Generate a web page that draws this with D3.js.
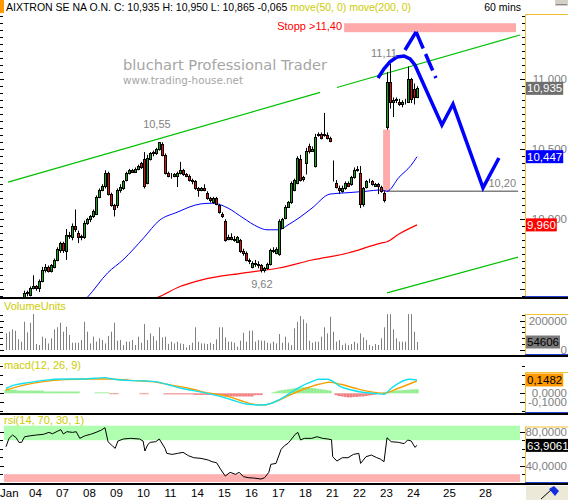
<!DOCTYPE html>
<meta charset="utf-8" />
<script src="https://d3js.org/d3.v7.min.js"></script>
<style>
  body { margin: 0; background: #fff; }
  svg { display: block; font-family: "Liberation Sans", Arial, sans-serif; }
</style>
<div id="chart"></div>
<script>
  // ---- data ----
  const title = "AIXTRON SE NA O.N.";
  const prevClose = 11.0;
  const dayLabels = ["Jan","04","07","08","09","10","11","14","15","16","17","18","21","22","23","24","25","28"];
  const dayBars = [0,9,18,27,36,45,54,63,72,81,90,99,108,117,126,135,147,159];

  // hourly candles [open, high, low, close]
  const ohlc = [
    [9.28,9.31,9.26,9.30],[9.30,9.34,9.29,9.33],[9.33,9.37,9.32,9.36],[9.36,9.39,9.34,9.38],[9.38,9.41,9.36,9.40],
    [9.40,9.43,9.38,9.42],[9.43,9.49,9.42,9.47],[9.47,9.49,9.45,9.48],[9.46,9.52,9.45,9.51],[9.51,9.60,9.50,9.52],
    [9.52,9.53,9.49,9.51],[9.51,9.57,9.48,9.56],[9.56,9.66,9.55,9.64],[9.64,9.68,9.62,9.66],[9.66,9.67,9.62,9.63],
    [9.63,9.68,9.62,9.67],[9.66,9.72,9.65,9.71],[9.71,9.80,9.70,9.79],[9.78,9.84,9.76,9.83],[9.83,9.84,9.76,9.78],
    [9.77,9.93,9.71,9.89],[9.89,9.91,9.86,9.88],[9.87,9.97,9.85,9.95],[9.95,10.07,9.91,9.93],[9.90,9.92,9.83,9.87],
    [9.87,9.89,9.85,9.88],[9.87,9.99,9.86,9.97],[9.97,10.01,9.96,10.00],[10.00,10.03,9.98,10.02],[10.02,10.07,10.01,10.06],
    [10.04,10.17,10.03,10.16],[10.16,10.22,10.15,10.21],[10.21,10.25,10.20,10.24],[10.24,10.35,10.22,10.33],[10.33,10.34,10.17,10.18],
    [10.18,10.19,10.09,10.10],[10.10,10.11,10.02,10.07],[10.10,10.22,10.08,10.21],[10.21,10.25,10.19,10.23],[10.22,10.28,10.21,10.27],
    [10.28,10.34,10.27,10.33],[10.33,10.36,10.32,10.35],[10.35,10.36,10.33,10.34],[10.34,10.37,10.33,10.36],[10.36,10.39,10.35,10.38],
    [10.40,10.41,10.36,10.37],[10.43,10.48,10.22,10.24],[10.26,10.46,10.25,10.44],[10.43,10.48,10.42,10.47],[10.47,10.49,10.45,10.48],
    [10.47,10.51,10.46,10.50],[10.50,10.55,10.49,10.55],[10.54,10.55,10.45,10.46],[10.46,10.47,10.32,10.33],[10.33,10.34,10.30,10.31],
    [10.31,10.33,10.29,10.31],[10.31,10.33,10.30,10.32],[10.31,10.34,10.23,10.33],[10.33,10.41,10.32,10.35],[10.35,10.36,10.31,10.32],
    [10.32,10.33,10.30,10.31],[10.31,10.32,10.27,10.28],[10.28,10.29,10.25,10.27],[10.27,10.28,10.21,10.22],[10.22,10.23,10.16,10.21],
    [10.21,10.23,10.20,10.22],[10.22,10.25,10.20,10.21],[10.19,10.20,10.14,10.15],[10.15,10.16,10.12,10.14],[10.12,10.16,10.11,10.15],
    [10.15,10.16,10.10,10.11],[10.10,10.11,10.04,10.05],[10.04,10.05,10.01,10.02],[9.99,10.00,9.84,9.85],[9.86,9.89,9.85,9.87],
    [9.87,9.90,9.85,9.86],[9.86,9.88,9.84,9.85],[9.84,9.88,9.83,9.87],[9.85,9.86,9.76,9.77],[9.77,9.79,9.74,9.76],
    [9.76,9.77,9.70,9.71],[9.71,9.72,9.68,9.70],[9.66,9.70,9.65,9.69],[9.69,9.71,9.66,9.68],[9.68,9.70,9.65,9.67],
    [9.67,9.68,9.62,9.64],[9.64,9.66,9.62,9.65],[9.65,9.69,9.64,9.68],[9.68,9.79,9.67,9.78],[9.78,9.80,9.76,9.77],
    [9.76,9.80,9.75,9.79],[9.75,10.00,9.74,9.99],[9.94,10.01,9.93,10.00],[10.01,10.10,10.00,10.09],[10.09,10.13,10.08,10.12],
    [10.12,10.27,10.11,10.26],[10.21,10.29,10.20,10.28],[10.26,10.45,10.25,10.44],[10.43,10.46,10.27,10.28],[10.29,10.31,10.27,10.30],
    [10.40,10.51,10.32,10.49],[10.52,10.54,10.47,10.49],[10.49,10.52,10.48,10.50],[10.38,10.61,10.37,10.59],[10.61,10.62,10.59,10.60],
    [10.61,10.62,10.57,10.58],[10.60,10.76,10.59,10.61],[10.60,10.62,10.57,10.58],[10.58,10.59,10.55,10.56],[10.29,10.42,10.27,10.29],
    [10.26,10.28,10.22,10.23],[10.22,10.24,10.18,10.21],[10.20,10.24,10.19,10.22],[10.22,10.27,10.21,10.26],[10.26,10.27,10.23,10.24],
    [10.25,10.31,10.24,10.30],[10.30,10.37,10.29,10.35],[10.35,10.38,10.34,10.36],[10.33,10.38,10.08,10.11],[10.11,10.23,10.09,10.22],
    [10.23,10.28,10.22,10.27],[10.27,10.29,10.26,10.27],[10.27,10.28,10.24,10.25],[10.24,10.26,10.23,10.25],[10.25,10.26,10.18,10.24],
    [10.23,10.24,10.19,10.20],[10.19,10.20,10.12,10.14],[10.66,11.05,10.64,10.98],[10.98,11.11,10.79,10.84],[10.84,10.87,10.73,10.85],
    [10.85,10.87,10.83,10.86],[10.84,10.86,10.81,10.82],[10.82,10.85,10.80,10.84],[10.84,10.86,10.82,10.84],[10.84,11.09,10.83,11.00],
    [11.00,11.01,10.83,10.86],[10.93,10.97,10.82,10.87],[10.87,10.95,10.865,10.935]
  ];

  // volume in thousands of units
  const volume = [
    114,125,141,132,73,57,193,120,186,245, 41,34,91,80,45,80,141,155,186,125,
    159,102,50,50,50,68,193,125,45,91, 57,80,68,45,95,125,186,64,68,34,
    57,57,68,34,91,50,177,68,114,95, 64,155,86,91,41,57,45,57,45,41,
    18,34,50,155,57,45,45,41,50,41, 73,155,155,86,57,57,50,23,64,118,
    57,132,132,57,68,64,64,50,45,57, 45,109,50,91,50,34,148,193,232,209,
    182,64,50,57,57,91,155,114,227,125, 57,68,34,45,34,41,57,45,114,86,
    68,34,27,41,34,80,155,245,245,141, 80,57,57,57,245,245,125,54.606
  ];

  // moving averages [bar, price]
  const ma50 = [[24,9.38],[27,9.44],[34,9.62],[39,9.71],[46,9.87],[51,9.99],[57,10.05],[65,10.11],[69,10.115],
    [74,10.08],[79,10.01],[84,9.945],[87,9.925],[91,9.925],[94,9.96],[98,10.015],[102,10.08],[108,10.18],
    [114,10.19],[120,10.20],[125,10.21],[127,10.20],[131,10.30],[135,10.385],[137,10.447]];
  const ma200 = [[48,9.42],[51,9.446],[58,9.52],[65,9.566],[79,9.616],[91,9.652],[102,9.709],[114,9.759],
    [125,9.83],[127,9.84],[131,9.895],[137,9.96]];

  // drawn objects [bar, price]
  const channelUpper = [[[0.7,10.265],[104.7,10.906]], [[110.3,10.941],[171.3,11.316]]];
  const channelLower = [[127,9.474],[170.7,9.73]];
  const supportLine = [[127,10.20],[170.7,10.20]];
  const forecast = [[124,11.009],[126,11.074],[128,11.124],[130.3,11.159],[132.7,11.166],[134.7,11.145],
    [136.3,11.102],[145.3,10.673],[149,10.823],[159,10.224],[164.3,10.438]];
  const peakUp = [[133,11.209],[136.7,11.338]];
  const peakDown = [[136.7,11.338],[143.3,11.009]];
  const gapZone = [125.7, 128, 10.195, 10.64];
  const stopZone = [112.7, 170, 11.336, 11.40];
  const notes = [
    { text: "10,55", bar: 50.3, price: 10.652, anchor: "middle" },
    { text: "9,62", bar: 85.3, price: 9.509, anchor: "middle" },
    { text: "11,11", bar: 126, price: 11.16, anchor: "middle" },
    { text: "10,20", bar: 170, price: 10.231, anchor: "end" }
  ];

  // indicators
  const macdLine = [[0,0.056],[3,0.093],[8,0.122],[12.5,0.144],[19.7,0.159],[25.8,0.159],[33,0.174],[35.4,0.159],
    [40.3,0.144],[46.3,0.137],[51.1,0.122],[53.6,0.1],[58.4,0.056],[65.6,0.011],[70.5,-0.026],[75.3,-0.074],
    [80.1,-0.119],[85,-0.13],[87.4,-0.122],[91,-0.074],[94.6,0],[98.2,0.074],[101.9,0.13],[104.3,0.156],
    [107.3,0.156],[109.1,0.13],[111.5,0.074],[115.2,0.037],[118.8,0.011],[123.6,-0.004],[126,-0.011],
    [128.4,0.056],[130.8,0.111],[134.5,0.156],[137,0.1482]];
  const signalLine = [[0,0.037],[5.2,0.085],[12.5,0.13],[19.7,0.152],[28.2,0.159],[34.2,0.159],[41.5,0.144],
    [48.7,0.13],[54.8,0.093],[60.8,0.056],[68,0],[72.9,-0.026],[77.7,-0.074],[82.5,-0.122],[86.2,-0.13],
    [89.8,-0.093],[94.6,-0.019],[99.4,0.048],[104.3,0.1],[107.9,0.122],[111.5,0.1],[116.4,0.056],
    [121.2,0.019],[126,0],[130.8,0.056],[137,0.137]];
  const macdHist = [
    0.04,0.04,0.04,0.04,0.03,0.03,0.03,0.03,0.03,0.03, 0.03,0.03,0.03,0.02,0.02,0.02,0.02,0.02,0.02,0.02,
    0.02,0.02,0.02,0.02,0.02,0,0,0,0,0, 0.01,0.01,0.01,0.01,0.01,-0.01,-0.01,-0.01,0,0,
    0,0,0,0,0,-0.01,-0.01,-0.01,0,0, 0,0,0,-0.012,-0.012,-0.012,-0.012,-0.012,-0.012,-0.012,
    -0.012,-0.012,-0.012,-0.018,-0.018,-0.018,-0.018,-0.018,-0.018,-0.018, -0.018,-0.018,-0.018,-0.035,-0.035,-0.035,-0.035,-0.035,-0.035,-0.035,
    -0.035,-0.035,-0.035,-0.02,-0.02,-0.02,0,0,0,0.01, 0.02,0.03,0.035,0.04,0.045,0.05,0.055,0.06,0.065,0.067,
    0.067,0.065,0.06,0.055,0.05,0.045,0.04,0.035,0.03,0, -0.02,-0.03,-0.035,-0.04,-0.045,-0.045,-0.04,-0.04,-0.035,-0.035,
    -0.03,-0.025,-0.02,-0.015,0,0,0.01,0.015,0.02,0.025, 0.03,0.033,0.035,0.037,0.04,0.042,0.044,0.045
  ];
  const rsi = [[0,62.4],[1,72.2],[2.2,76.1],[3.4,72.9],[4.3,67.5],[5.2,67.5],[6.2,74.1],[8.3,75.3],[10.1,76.1],
    [12.5,76.9],[14.3,79.2],[15.5,77.6],[17.3,80.8],[18.3,82.4],[19.1,77.3],[20.3,80],[22.2,79.2],[23.4,80],
    [24.6,72.2],[26.4,75.3],[28.2,76.9],[30,79.2],[31.8,82],[33,84.7],[34,68.2],[35.4,63.5],[36.4,60.4],
    [37.3,69],[39.1,71.4],[41.5,72.2],[44.5,71.4],[45.7,69],[46.3,57.3],[47.3,65.1],[48.1,67.5],[49.9,68.2],
    [51.1,71.4],[53,60.4],[53.6,54.5],[55.4,53.3],[57.2,54.5],[59,55.7],[60.8,51.8],[62.6,49.4],[65,48.6],
    [67.4,46.7],[68.7,44.7],[70.2,43.5],[71.7,34.9],[73.1,27.8],[74.7,32.2],[76.5,29.8],[77.7,32.2],[79.2,27.1],
    [80.7,25.9],[82.5,25.5],[85,24.3],[86.2,25.9],[87.6,32.2],[88.3,41.6],[90,42.7],[91.7,59.2],[92.8,63.5],
    [94,66.3],[95.2,71.4],[96.4,76.9],[97.3,79.2],[98.2,70.2],[99.4,72.2],[101.9,72.2],[103.7,74.1],[105.5,72.2],
    [107.3,71.4],[108.5,70.6],[108.9,50.6],[110.3,45.5],[112.1,49.4],[114,49.4],[115.8,53.3],[117.6,54.5],
    [118.2,42.7],[120,50.6],[121.8,52.5],[123.6,49.4],[124.8,47.8],[126,44.7],[127,72.9],[128.4,68.2],
    [130.8,67.5],[132.7,65.9],[133.9,70.2],[135.1,69],[136.3,61.6],[137,63.9061]];

  // ---- layout ----
  const width = 568, height = 500;
  const plotL = 4, plotR = 521, boxL = 525;
  const yellow = "#cccc00", gray = "#808080";
  const fmtC = (v, d) => v.toFixed(d).replace(".", ",");

  const svg = d3.select("#chart").append("svg").attr("width", width).attr("height", height);
  svg.append("rect").attr("width", width).attr("height", height).attr("fill", "#fff");

  const x = d3.scaleLinear().domain([0, 137]).range([6, 417]);
  const yP = d3.scaleLinear().domain([9.445, 11.466]).range([297, 14]);
  const yV = d3.scaleLinear().domain([0, 200]).range([350, 320.7]);
  const yM = d3.scaleLinear().domain([0, 0.1]).range([393.3, 384.3]);
  const yR = d3.scaleLinear().domain([40, 80]).range([465.7, 431.7]);

  svg.append("clipPath").attr("id", "mainclip").append("rect")
    .attr("x", plotL).attr("y", 14).attr("width", plotR - plotL).attr("height", 283);

  // ---- header ----
  svg.append("rect").attr("x", 0).attr("y", 0).attr("width", 4).attr("height", 13).attr("fill", "#ff9900");
  const last = ohlc[ohlc.length - 1];
  const head = svg.append("text").attr("x", 6).attr("y", 11).style("font-size", "10.5px");
  head.append("tspan").attr("fill", "#000")
    .text(title + " C: " + fmtC(last[3], 3) + " H: " + fmtC(last[1], 3) + " L: " + fmtC(last[2], 3) + " " + fmtC(last[3] - prevClose, 3));
  head.append("tspan").attr("fill", yellow).text(" move(50, 0) move(200, 0)");
  svg.append("text").attr("x", 521).attr("y", 11).attr("text-anchor", "end")
    .style("font-size", "10.5px").text("60 mins");
  svg.append("rect").attr("x", 555).attr("y", 0).attr("width", 13).attr("height", 6).attr("fill", "#d4d0c8");
  svg.append("line").attr("x1", 556).attr("x2", 567).attr("y1", 4.5).attr("y2", 4.5).attr("stroke", "#888");

  // ---- main panel ----
  const main = svg.append("g").attr("clip-path", "url(#mainclip)");

  main.append("text").attr("x", 123).attr("y", 70).attr("fill", "#a6a6a6")
    .attr("textLength", 204).attr("lengthAdjust", "spacingAndGlyphs")
    .style("font-family", "DejaVu Sans").style("font-size", "14px").text("bluchart Professional Trader");
  main.append("text").attr("x", 123).attr("y", 84).attr("fill", "#a6a6a6")
    .attr("textLength", 120).attr("lengthAdjust", "spacingAndGlyphs")
    .style("font-family", "DejaVu Sans").style("font-size", "10px").text("www.trading-house.net");

  const lineP = d3.line().x((d) => x(d[0])).y((d) => yP(d[1]));
  const curveP = d3.line().x((d) => x(d[0])).y((d) => yP(d[1])).curve(d3.curveMonotoneX);

  main.append("rect").attr("x", x(stopZone[0])).attr("y", yP(stopZone[3]))
    .attr("width", x(stopZone[1]) - x(stopZone[0])).attr("height", yP(stopZone[2]) - yP(stopZone[3]))
    .attr("fill", "#ffaaaa");
  main.append("rect").attr("x", x(gapZone[0])).attr("y", yP(gapZone[3]))
    .attr("width", x(gapZone[1]) - x(gapZone[0])).attr("height", yP(gapZone[2]) - yP(gapZone[3]))
    .attr("fill", "#ffaaaa");

  channelUpper.concat([channelLower]).forEach((seg) => {
    main.append("path").attr("d", lineP(seg)).attr("fill", "none").attr("stroke", "#00c000").attr("stroke-width", 1.2);
  });
  main.append("path").attr("d", lineP(supportLine)).attr("fill", "none").attr("stroke", gray).attr("stroke-width", 1.5);

  main.append("path").attr("d", curveP(ma200)).attr("fill", "none").attr("stroke", "#ff0000").attr("stroke-width", 1.2);
  main.append("path").attr("d", curveP(ma50)).attr("fill", "none").attr("stroke", "#0000ff").attr("stroke-width", 1);

  // candles
  const candle = main.append("g").selectAll("g").data(ohlc).join("g");
  candle.append("line")
    .attr("x1", (d, i) => Math.round(x(i)) + 0.5).attr("x2", (d, i) => Math.round(x(i)) + 0.5)
    .attr("y1", (d) => yP(d[1])).attr("y2", (d) => yP(d[2])).attr("stroke", "#000");
  candle.append("rect")
    .attr("x", (d, i) => Math.round(x(i)) - 0.5)
    .attr("y", (d) => Math.round(yP(Math.max(d[0], d[3]))) + 0.5)
    .attr("width", 2)
    .attr("height", (d) => Math.max(0, Math.round(yP(Math.min(d[0], d[3]))) - Math.round(yP(Math.max(d[0], d[3])))))
    .attr("fill", (d) => (d[3] >= d[0] ? "#10a810" : "#e01010"))
    .attr("stroke", "#000");

  // forecast drawing
  main.append("path").attr("d", lineP(forecast)).attr("fill", "none").attr("stroke", "#0000ff").attr("stroke-width", 3.5);
  main.append("path").attr("d", lineP(peakUp)).attr("fill", "none").attr("stroke", "#0000ff").attr("stroke-width", 3.5);
  main.append("path").attr("d", lineP(peakDown)).attr("fill", "none").attr("stroke", "#0000ff")
    .attr("stroke-width", 3.5).attr("stroke-dasharray", "18,6");

  main.append("text").attr("x", x(stopZone[0]) - 2).attr("y", yP(11.352)).attr("text-anchor", "end")
    .attr("fill", "#ff0000").style("font-size", "11px").text("Stopp >11,40");
  main.selectAll(".note").data(notes).join("text").attr("class", "note")
    .attr("x", (d) => x(d.bar)).attr("y", (d) => yP(d.price)).attr("text-anchor", (d) => d.anchor)
    .attr("fill", gray).style("font-size", "11px").text((d) => d.text);

  // ---- volume ----
  svg.append("g").selectAll("line").data(volume).join("line")
    .attr("x1", (d, i) => Math.round(x(i)) + 0.5).attr("x2", (d, i) => Math.round(x(i)) + 0.5)
    .attr("y1", yV(0)).attr("y2", (d) => yV(d)).attr("stroke", gray).attr("stroke-width", 1);

  // ---- macd ----
  svg.append("g").selectAll("rect").data(macdHist).join("rect")
    .attr("x", (d, i) => x(i) - 1.5).attr("width", 3.1)
    .attr("y", (d) => Math.min(yM(d), yM(0))).attr("height", (d) => Math.abs(yM(d) - yM(0)))
    .attr("fill", (d) => (d >= 0 ? "#90ee90" : "#f08080"));
  const lineM = d3.line().x((d) => x(d[0])).y((d) => yM(d[1])).curve(d3.curveMonotoneX);
  svg.append("path").attr("d", lineM(signalLine)).attr("fill", "none").attr("stroke", "#f5a000").attr("stroke-width", 1.4);
  svg.append("path").attr("d", lineM(macdLine)).attr("fill", "none").attr("stroke", "#10e0f0").attr("stroke-width", 1.4);

  // ---- rsi ----
  svg.append("rect").attr("x", plotL).attr("width", plotR - plotL - 1)
    .attr("y", 425.7).attr("height", yR(70) - 425.7).attr("fill", "#b0ffb0");
  svg.append("rect").attr("x", plotL).attr("width", plotR - plotL - 1)
    .attr("y", yR(30)).attr("height", 482 - yR(30)).attr("fill", "#ffb0b0");
  svg.append("path").attr("d", d3.line().x((d) => x(d[0])).y((d) => yR(d[1]))(rsi))
    .attr("fill", "none").attr("stroke", "#000").attr("stroke-width", 1);

  // ---- panel labels ----
  [["VolumeUnits", 310], ["macd(12, 26, 9)", 369], ["rsi(14, 70, 30, 1)", 424]].forEach(([t, yy]) => {
    svg.append("text").attr("x", 4).attr("y", yy).attr("fill", yellow).style("font-size", "11px").text(t);
  });

  // ---- edge ticks ----
  function edgeTicks(scale, values, majors) {
    values.forEach((v) => {
      const yy = Math.round(scale(v)) + 0.5;
      const big = majors.some((m) => Math.abs(m - v) < 1e-6);
      svg.append("line").attr("x1", 0).attr("x2", big ? 4 : 3).attr("y1", yy).attr("y2", yy).attr("stroke", "#000");
      svg.append("line").attr("x1", big ? 520 : 522).attr("x2", boxL).attr("y1", yy).attr("y2", yy).attr("stroke", "#000");
    });
  }
  edgeTicks(yP, d3.range(9.45, 11.46, 0.05).map((v) => +v.toFixed(2)), [9.5, 10, 10.5, 11]);
  edgeTicks(yV, d3.range(0, 241, 40), [0, 200]);
  edgeTicks(yM, [-0.2, -0.1, 0, 0.1, 0.2, 0.3], [0, -0.1]);
  edgeTicks(yR, d3.range(30, 81, 10), [40, 80]);

  // ---- separators ----
  [[297, 299], [355, 357], [413, 415], [483, 485]].forEach(([a, b]) => {
    svg.append("rect").attr("x", 0).attr("y", a).attr("width", width).attr("height", b - a).attr("fill", "#000");
  });

  // ---- right value boxes ----
  [[14, 296], [314, 354], [372, 412], [426.5, 482]].forEach(([t, b]) => {
    svg.append("line").attr("x1", boxL + 0.5).attr("x2", boxL + 0.5).attr("y1", t).attr("y2", b).attr("stroke", "#f0c030");
    svg.append("line").attr("x1", boxL).attr("x2", width).attr("y1", t + 0.5).attr("y2", t + 0.5).attr("stroke", "#f0c030");
    svg.append("line").attr("x1", boxL).attr("x2", width).attr("y1", b + 0.5).attr("y2", b + 0.5).attr("stroke", "#2040d0");
  });

  function axisLabel(yy, t) {
    svg.append("text").attr("x", 567).attr("y", yy).attr("dy", "0.35em").attr("text-anchor", "end")
      .attr("fill", gray).style("font-size", "11.5px").text(t);
  }
  [11, 10.5, 10].forEach((v) => axisLabel(yP(v), fmtC(v, 3)));
  axisLabel(yV(200), "200000");
  axisLabel(yV(0), "0");
  axisLabel(yM(0), fmtC(0, 4));
  axisLabel(yM(-0.1), fmtC(-0.1, 4));
  axisLabel(yR(80), fmtC(80, 4));
  axisLabel(yR(40), fmtC(40, 4));

  function valueBox(yy, t, bg, fg) {
    const g = svg.append("g");
    const r = g.append("rect").attr("x", 526).attr("y", yy - 6.5).attr("height", 13).attr("fill", bg);
    const tx = g.append("text").attr("x", 527).attr("y", yy).attr("dy", "0.36em")
      .attr("fill", fg).style("font-size", "11.5px").text(t);
    r.attr("width", tx.node().getComputedTextLength() + 2);
  }
  valueBox(yP(last[3]), fmtC(last[3], 3), "#6e6e6e", "#fff");
  valueBox(yP(ma50[ma50.length - 1][1]), fmtC(ma50[ma50.length - 1][1], 3), "#0000ff", "#fff");
  valueBox(yP(ma200[ma200.length - 1][1]), fmtC(ma200[ma200.length - 1][1], 3), "#ff0000", "#fff");
  const lastVol = volume[volume.length - 1];
  valueBox(yV(lastVol), String(Math.round(lastVol * 1000)), "#7a7a7a", "#000");
  const lastMacd = macdLine[macdLine.length - 1][1];
  valueBox(yM(lastMacd), fmtC(lastMacd, 4), "#ff9900", "#000");
  const lastRsi = rsi[rsi.length - 1][1];
  valueBox(yR(lastRsi), fmtC(lastRsi, 4), "#000", "#fff");

  // ---- x axis ----
  svg.append("g").selectAll("text").data(dayLabels).join("text")
    .attr("x", (d, i) => (i === 0 ? 0 : x(dayBars[i]) + 2.5))
    .attr("y", 497).attr("text-anchor", (d, i) => (i === 0 ? "start" : "middle"))
    .style("font-size", "11.5px").text((d) => d);

  // corner button
  svg.append("rect").attr("x", 526).attr("y", 486).attr("width", 42).attr("height", 14).attr("fill", "#ece9d8");
  svg.append("line").attr("x1", 541).attr("y1", 499).attr("x2", 551).attr("y2", 490).attr("stroke", "#000");
  svg.append("path").attr("d", "M549,489 L554,486 L559,491 L555,496 Z").attr("fill", "#1030e0");
</script>
